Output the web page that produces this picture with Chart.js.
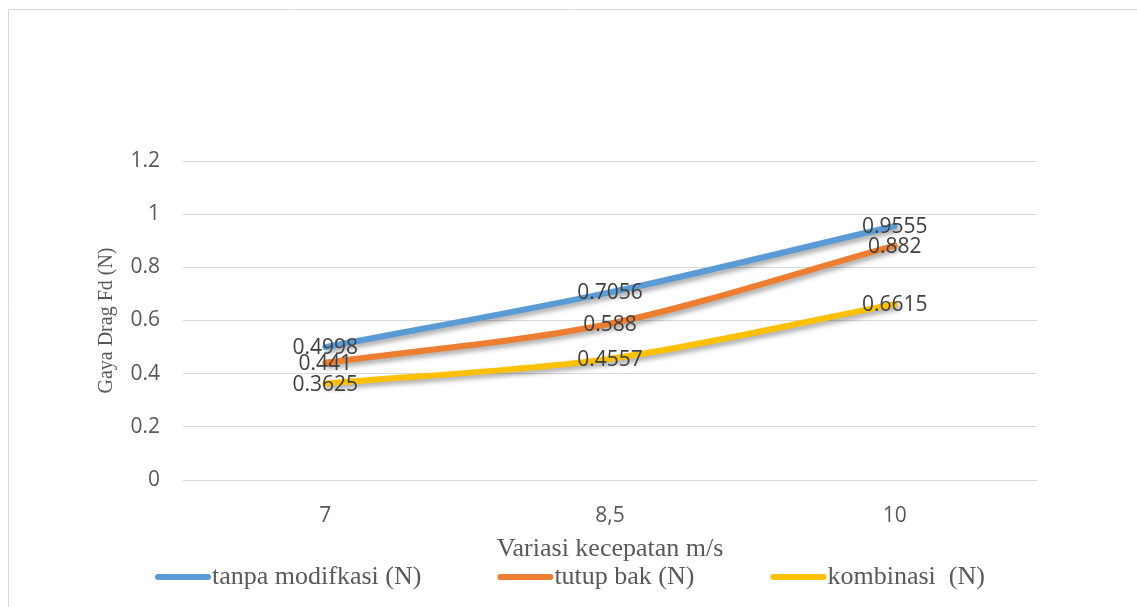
<!DOCTYPE html>
<html>
<head>
  <title>Gaya Drag</title>
  <script src="https://cdn.jsdelivr.net/npm/chart.js"></script>
  <style>
    body { margin: 0; background: #fff; }
    canvas { display: block; }
  </style>
</head>
<body>
<canvas id="dragChart" width="1137" height="607"></canvas>

<script>
const kecepatan = ["7", "8,5", "10"];
const tanpaModifikasi = [0.4998, 0.7056, 0.9555];
const tutupBak = [0.441, 0.588, 0.882];
const kombinasi = [0.3625, 0.4557, 0.6615];
const seriesNames = ["tanpa modifkasi (N)", "tutup bak (N)", "kombinasi  (N)"];
const seriesColors = ["#5B9BD5", "#ED7D31", "#FFC000"];

const serif = "'Liberation Serif', 'DejaVu Serif', serif";
const sans = "'Open Sans', 'Liberation Sans', sans-serif";

// frame, line shadows, value labels and legend
const extras = {
  id: "extras",
  beforeDraw(chart) {
    const c = chart.ctx;
    c.save();
    c.fillStyle = "#fff";
    c.fillRect(0, 0, chart.width, chart.height);
    c.strokeStyle = "#d9d9d9";
    c.lineWidth = 1;
    c.beginPath();
    c.moveTo(8.5, chart.height);
    c.lineTo(8.5, 9.5);
    c.lineTo(chart.width, 9.5);
    c.stroke();
    c.restore();
  },
  beforeDatasetDraw(chart) {
    const c = chart.ctx;
    c.save();
    c.shadowColor = "rgba(0,0,0,0.35)";
    c.shadowBlur = 5;
    c.shadowOffsetX = 3;
    c.shadowOffsetY = 3;
  },
  afterDatasetDraw(chart) {
    chart.ctx.restore();
  },
  afterDatasetsDraw(chart) {
    const c = chart.ctx;
    c.save();
    c.font = "21px " + sans;
    c.fillStyle = "#404040";
    c.textAlign = "center";
    c.textBaseline = "middle";
    chart.data.datasets.forEach((ds, i) => {
      chart.getDatasetMeta(i).data.forEach((pt, j) => {
        c.fillText(String(ds.data[j]), pt.x, pt.y + 1);
      });
    });
    c.restore();

    // legend
    c.save();
    c.font = "26px " + serif;
    c.fillStyle = "#595959";
    c.textBaseline = "middle";
    const y = 577;
    let x = 155;
    seriesNames.forEach((name, i) => {
      c.strokeStyle = seriesColors[i];
      c.lineWidth = 6;
      c.lineCap = "round";
      c.beginPath();
      c.moveTo(x + 3, y);
      c.lineTo(x + 53, y);
      c.stroke();
      c.fillText(name, x + 57, y);
      x += 57 + c.measureText(name).width + 76;
    });
    c.restore();
  }
};

new Chart(document.getElementById("dragChart"), {
  type: "line",
  data: {
    labels: kecepatan,
    datasets: [
      { label: seriesNames[0], data: tanpaModifikasi, borderColor: seriesColors[0], order: 3 },
      { label: seriesNames[1], data: tutupBak, borderColor: seriesColors[1], order: 2 },
      { label: seriesNames[2], data: kombinasi, borderColor: seriesColors[2], order: 1 }
    ]
  },
  options: {
    responsive: false,
    animation: false,
    layout: { padding: { left: 95, top: 161, right: 100, bottom: 42 } },
    elements: {
      line: { borderWidth: 6, tension: 0.3, borderCapStyle: "round", fill: false },
      point: { radius: 0 }
    },
    plugins: { legend: { display: false }, tooltip: { enabled: false } },
    scales: {
      x: {
        offset: true,
        grid: { display: false },
        border: { display: false },
        ticks: { color: "#595959", font: { size: 21, family: sans }, padding: 15 },
        title: { display: true, text: "Variasi kecepatan m/s", color: "#595959",
                 font: { size: 26, family: serif }, padding: { top: 0, bottom: 0 } },
        afterFit(s) { s.height = 85; }
      },
      y: {
        min: 0,
        max: 1.2,
        grid: { color: "#d9d9d9", lineWidth: 1, drawTicks: false },
        border: { display: false },
        ticks: { stepSize: 0.2, color: "#595959", font: { size: 21, family: sans }, padding: 23,
                 callback: v => String(+v.toFixed(1)) },
        title: { display: true, text: "Gaya Drag Fd (N)", color: "#595959",
                 font: { size: 20, family: serif }, padding: 0 },
        afterFit(s) { s.width = 88; }
      }
    }
  },
  plugins: [extras]
});
</script>
</body>
</html>
